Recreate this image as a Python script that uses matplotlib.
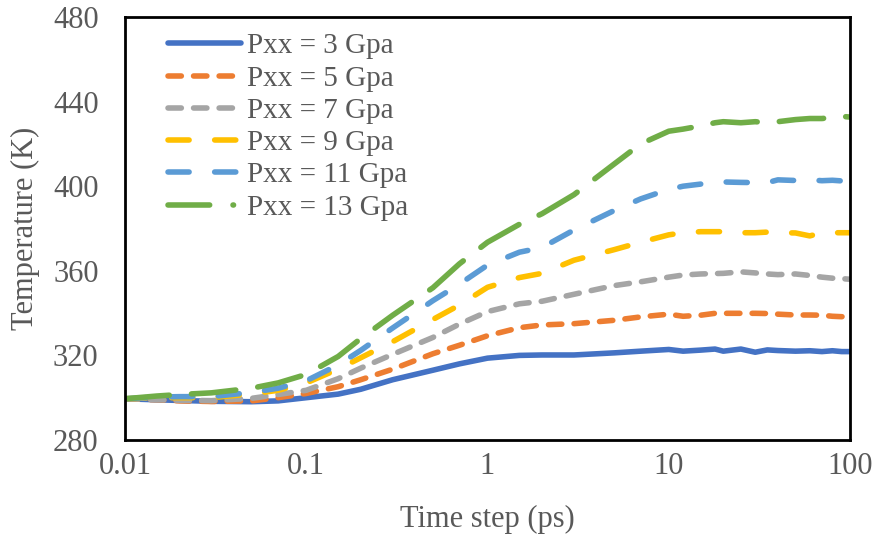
import matplotlib
matplotlib.use("Agg")
import matplotlib.pyplot as plt
from matplotlib.lines import Line2D

plt.rcParams['font.family'] = ['Liberation Serif', 'DejaVu Serif']

# time grid (ps)
time_ps = [0.01, 0.015, 0.02, 0.03, 0.05, 0.07, 0.1, 0.15, 0.2, 0.3, 0.5, 0.7,
           1, 1.5, 2, 3, 5, 7, 10, 12, 15, 18, 20, 25, 30, 35, 40, 50, 60,
           70, 80, 90, 100]

temp_3 = [299.5, 299.0, 298.7, 298.3, 298.1, 298.5, 300.0, 301.7, 304.0, 308.5,
          313.0, 316.0, 318.7, 320.0, 320.2, 320.2, 321.2, 322.0, 322.8, 322.0,
          322.5, 323.0, 322.0, 323.0, 321.5, 322.6, 322.3, 322.0, 322.2, 321.8,
          322.2, 321.8, 321.8]
temp_5 = [299.5, 299.0, 298.5, 298.2, 298.5, 300.0, 302.0, 305.2, 308.5, 313.5,
          320.8, 324.8, 329.3, 333.1, 334.4, 335.0, 336.6, 338.2, 339.5, 338.5,
          339.0, 339.9, 339.9, 339.9, 339.9, 339.8, 339.5, 339.1, 339.1, 339.0,
          338.5, 338.3, 338.6]
temp_7 = [299.5, 299.0, 298.8, 298.6, 299.7, 301.5, 303.5, 309.0, 314.0, 320.5,
          328.5, 334.8, 340.7, 344.4, 345.6, 348.9, 353.0, 354.8, 357.0, 358.0,
          358.5, 358.7, 358.8, 359.5, 359.0, 358.5, 358.2, 358.5, 357.8, 357.0,
          356.5, 356.3, 356.0]
temp_9 = [299.5, 300.0, 300.0, 300.0, 301.8, 303.5, 307.0, 313.5, 318.9, 326.5,
          337.0, 343.8, 352.2, 356.8, 358.8, 365.0, 370.0, 373.5, 377.0, 378.0,
          378.5, 378.5, 378.5, 378.0, 378.0, 378.3, 378.0, 377.9, 376.5, 378.0,
          378.0, 378.0, 378.0]
temp_11 = [299.5, 300.3, 300.5, 300.5, 302.5, 304.5, 308.0, 315.5, 322.4, 333.0,
           345.9, 353.7, 362.7, 368.8, 371.0, 379.3, 388.5, 394.0, 398.5, 400.0,
           401.0, 401.8, 402.0, 401.8, 401.7, 401.7, 403.0, 402.7, 403.0, 402.6,
           402.8, 402.5, 402.6]
temp_13 = [299.5, 300.8, 301.5, 302.3, 304.5, 307.0, 311.0, 319.5, 328.0, 339.0,
           352.0, 363.3, 373.5, 382.0, 387.0, 396.0, 410.5, 420.0, 426.0, 427.0,
           428.5, 430.0, 430.5, 430.0, 430.5, 430.0, 430.5, 431.5, 432.0, 432.0,
           432.5, 433.0, 432.7]

labels = ['Pxx = 3 Gpa', 'Pxx = 5 Gpa', 'Pxx = 7 Gpa', 'Pxx = 9 Gpa',
          'Pxx = 11 Gpa', 'Pxx = 13 Gpa']
colors = ['#4472C4', '#ED7D31', '#A5A5A5', '#FFC000', '#5B9BD5', '#70AD47']
dashes = [None, (2.4, 2.2), (2.4, 2.2), (3.8, 4.6), (3.8, 4.6), (8, 4)]
series = [temp_3, temp_5, temp_7, temp_9, temp_11, temp_13]

text_color = '#595959'
lw = 4.0

fig = plt.figure(figsize=(8.76, 5.46), dpi=100)
ax = fig.add_axes([125 / 876, 106 / 546, 725 / 876, 423 / 546])

handles = []
for temps, lab, col, ds in zip(series, labels, colors, dashes):
    if ds is None:
        ln, = ax.plot(time_ps, temps, color=col, lw=lw, solid_capstyle='round',
                      solid_joinstyle='round', label=lab)
    else:
        ln, = ax.plot(time_ps, temps, color=col, lw=lw, dashes=ds,
                      dash_capstyle='round', dash_joinstyle='round', label=lab)
    handles.append(ln)

# legend entry for the last series shows the dash-dot form
handles[-1] = Line2D([], [], color=colors[-1], lw=lw, dashes=(7.5, 4.2, 0.1, 4.2),
                     dash_capstyle='round')

ax.set_xscale('log')
ax.set_xlim(0.01, 100)
ax.set_ylim(280, 480)
ax.set_xticks([0.01, 0.1, 1, 10, 100])
ax.set_xticklabels(['0.01', '0.1', '1', '10', '100'])
ax.set_yticks([280, 320, 360, 400, 440, 480])
ax.minorticks_off()
ax.tick_params(axis='both', length=0, labelsize=22, labelcolor=text_color)
ax.tick_params(axis='x', pad=9)
ax.tick_params(axis='y', pad=19)

for sp in ax.spines.values():
    sp.set_linewidth(2)
    sp.set_color('black')

ax.set_xlabel('Time step (ps)', fontsize=22, color=text_color, labelpad=17)
ax.set_ylabel('Temperature (K)', fontsize=22, color=text_color, labelpad=9)

ax.legend(handles=handles, labels=labels, loc='upper left',
          bbox_to_anchor=(0.059, 0.962), frameon=False, fontsize=21,
          labelcolor=text_color, handlelength=2.5, handletextpad=0.2,
          labelspacing=0.2, borderpad=0, borderaxespad=0)

fig.savefig('out.png', dpi=100)
